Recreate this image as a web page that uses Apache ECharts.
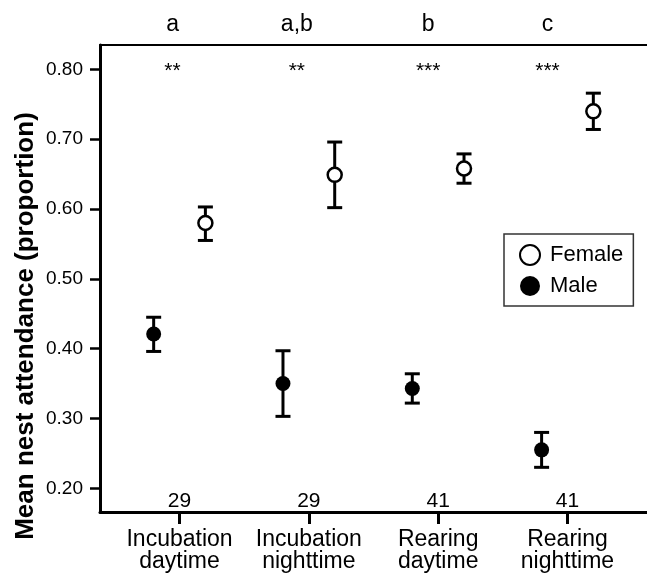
<!DOCTYPE html>
<html>
<head>
<meta charset="utf-8">
<script src="https://cdn.jsdelivr.net/npm/echarts@6.0.0/dist/echarts.min.js"></script>
<style>
html,body{margin:0;padding:0;background:#fff;}
#chart{width:647px;height:575px;}
</style>
</head>
<body>
<div id="chart"></div>
<script>
// ---- data ----
var categories = ['Incubation\ndaytime', 'Incubation\nnighttime', 'Rearing\ndaytime', 'Rearing\nnighttime'];
var femaleMean = [0.580, 0.649, 0.658, 0.740];
var femaleLow  = [0.555, 0.602, 0.637, 0.714];
var femaleHigh = [0.603, 0.696, 0.679, 0.766];
var maleMean   = [0.421, 0.350, 0.343, 0.255];
var maleLow    = [0.396, 0.303, 0.322, 0.230];
var maleHigh   = [0.445, 0.397, 0.364, 0.280];
var sampleSizes = ['29', '29', '41', '41'];
var groupLetters = ['a', 'a,b', 'b', 'c'];
var significance = ['**', '**', '***', '***'];
var yTicks = [0.2, 0.3, 0.4, 0.5, 0.6, 0.7, 0.8];

// ---- layout ----
var FONT = "'Liberation Sans', Arial, Helvetica, sans-serif";
var OFFSET = 0.2;               // horizontal offset of sexes within a category
var annotDx = [-7, -12, -10, -20]; // pixel nudges of top annotations

var chart = echarts.init(document.getElementById('chart'), null, {renderer: 'canvas'});

function pts(means, shift) {
  return means.map(function (v, i) { return [i + 1 + shift, v]; });
}
function bars(lo, hi, shift) {
  return lo.map(function (v, i) { return [i + 1 + shift, v, hi[i]]; });
}
function errRender(params, api) {
  var x = api.value(0);
  var a = api.coord([x, api.value(1)]);
  var b = api.coord([x, api.value(2)]);
  var w = 7.5;
  var st = {stroke: '#000', lineWidth: 3};
  return {
    type: 'group',
    children: [
      {type: 'line', shape: {x1: a[0], y1: a[1], x2: b[0], y2: b[1]}, style: st},
      {type: 'line', shape: {x1: a[0] - w, y1: a[1], x2: a[0] + w, y2: a[1]}, style: st},
      {type: 'line', shape: {x1: b[0] - w, y1: b[1], x2: b[0] + w, y2: b[1]}, style: st}
    ]
  };
}

var xTickVals = categories.map(function (c, i) { return i + 1; });

var option = {
  animation: false,
  backgroundColor: '#fff',
  grid: {left: 100, top: 45, right: -3, bottom: 63, containLabel: false},
  xAxis: [{
    type: 'value', min: 0.385, max: 4.615,
    axisLine: {show: true, lineStyle: {color: '#000', width: 3}},
    axisTick: {show: true, inside: false, length: 12, lineStyle: {color: '#000', width: 3}, customValues: xTickVals},
    axisLabel: {
      show: true, customValues: xTickVals, margin: 17,
      color: '#000', fontSize: 23, lineHeight: 22, fontFamily: FONT,
      formatter: function (v) { return categories[Math.round(v) - 1] || ''; }
    },
    splitLine: {show: false}
  }, {
    type: 'value', position: 'top', min: 0.385, max: 4.615,
    axisLine: {show: true, onZero: false, lineStyle: {color: '#000', width: 2}},
    axisTick: {show: false}, axisLabel: {show: false}, splitLine: {show: false}
  }],
  yAxis: {
    type: 'value', min: 0.166, max: 0.835,
    axisLine: {show: true, onZero: false, lineStyle: {color: '#000', width: 3}},
    axisTick: {show: true, inside: false, length: 10, lineStyle: {color: '#000', width: 2.5}, customValues: yTicks},
    axisLabel: {
      show: true, customValues: yTicks, margin: 17,
      color: '#000', fontSize: 19, fontFamily: FONT,
      formatter: function (v) { return v.toFixed(2); }
    },
    splitLine: {show: false}
  },
  legend: {
    data: ['Female', 'Male'],
    orient: 'vertical',
    left: 504, top: 234,
    icon: 'circle',
    itemWidth: 20, itemHeight: 20, itemGap: 9,
    padding: [10, 10, 9, 15],
    borderColor: '#333', borderWidth: 1.5,
    backgroundColor: '#fff',
    textStyle: {color: '#000', fontSize: 22, lineHeight: 20, fontFamily: FONT, padding: [0, 0, 0, 5]},
    selectedMode: false
  },
  series: [
    {type: 'custom', name: 'femaleErr', renderItem: errRender, data: bars(femaleLow, femaleHigh, OFFSET), encode: {x: 0, y: [1, 2]}, z: 2, silent: true},
    {type: 'custom', name: 'maleErr', renderItem: errRender, data: bars(maleLow, maleHigh, -OFFSET), encode: {x: 0, y: [1, 2]}, z: 2, silent: true},
    {type: 'scatter', name: 'Female', data: pts(femaleMean, OFFSET), symbol: 'circle', symbolSize: 14,
      itemStyle: {color: '#fff', borderColor: '#000', borderWidth: 2.5, opacity: 1}, z: 5},
    {type: 'scatter', name: 'Male', data: pts(maleMean, -OFFSET), symbol: 'circle', symbolSize: 15,
      itemStyle: {color: '#000', borderColor: '#000', borderWidth: 0, opacity: 1}, z: 5}
  ]
};
chart.setOption(option);

// annotations positioned via axis conversion
var g = [];
g.push({
  type: 'text', x: 26, y: 326, rotation: Math.PI / 2,
  style: {text: 'Mean nest attendance (proportion)', fill: '#000', font: 'bold 26px ' + FONT, align: 'center', verticalAlign: 'middle'}
});
categories.forEach(function (c, i) {
  var px = chart.convertToPixel({xAxisIndex: 0}, i + 1);
  g.push({type: 'text', x: px + annotDx[i], y: 25,
    style: {text: groupLetters[i], fill: '#000', font: '23px ' + FONT, align: 'center', verticalAlign: 'middle'}});
  g.push({type: 'text', x: px + annotDx[i], y: 71,
    style: {text: significance[i], fill: '#000', font: '21px ' + FONT, align: 'center', verticalAlign: 'middle'}});
  g.push({type: 'text', x: px, y: 501,
    style: {text: sampleSizes[i], fill: '#000', font: '21px ' + FONT, align: 'center', verticalAlign: 'middle'}});
});
chart.setOption({graphic: {elements: g}});
</script>
</body>
</html>
